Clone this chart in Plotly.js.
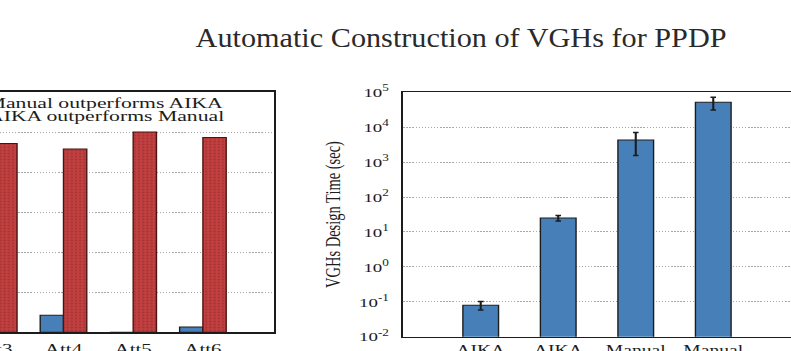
<!DOCTYPE html>
<html>
<head>
<meta charset="utf-8">
<script src="https://cdn.plot.ly/plotly-3.0.1.min.js"></script>
<style>
  html, body { margin: 0; padding: 0; background: #fff; overflow: hidden; width: 791px; height: 351px; }
  /* the figure is drawn narrow and widened horizontally, like a stretched embedded plot */
  #fig { position: absolute; left: -110px; top: 0; width: 648px; height: 351px;
         transform: scaleX(1.4); transform-origin: 0 0; }
</style>
</head>
<body>
<div id="fig"></div>
<script>
// Left panel: share of cases in which each approach wins, per attribute (%)
const attrCats = ['Att3', 'Att4', 'Att5', 'Att6'];
const seriesNames = ['Manual outperforms AIKA', 'AIKA outperforms Manual'];
const manualWins = [5.7, 8.5, 0, 2.7];
const aikaWins = [94.3, 91.5, 100, 97.3];

// Right panel: VGH design time (seconds, log scale) with error bars
const designLabels = ['AIKA', 'AIKA', 'Manual', 'Manual'];
const designTime = [0.08, 25, 4300, 51600];
const designErr = [0.022, 4.5, 2750, 20400];
const logExponents = [-2, -1, 0, 1, 2, 3, 4, 5];

const pageTitle = 'Automatic Construction of VGHs for PPDP';
const yTitleRight = 'VGHs Design Time (sec)';

const SERIF = 'Liberation Serif, Times New Roman, serif';
const INK = '#1c1c1c';
const TITLE_SCALE = 0.8;    // the page title keeps a near natural width

const traces = [
  {
    type: 'bar', name: seriesNames[0], x: attrCats, y: manualWins,
    xaxis: 'x', yaxis: 'y',
    marker: { color: '#4780b8', line: { color: INK, width: 1 } }
  },
  {
    type: 'bar', name: seriesNames[1], x: attrCats, y: aikaWins,
    xaxis: 'x', yaxis: 'y',
    marker: {
      color: '#c03d3d',
      line: { color: '#4a1414', width: 1 },
      pattern: { shape: '.', fillmode: 'replace', bgcolor: '#c24040', fgcolor: '#a83434', size: 3, solidity: 0.3 }
    }
  },
  {
    type: 'bar', name: yTitleRight,
    x: designLabels.map((_, i) => i), y: designTime, width: 0.46,
    xaxis: 'x2', yaxis: 'y2',
    marker: { color: '#4780b8', line: { color: INK, width: 1 } },
    error_y: { type: 'data', array: designErr, visible: true, color: INK, thickness: 1.5, width: 2 }
  }
];

const frame = { showline: true, mirror: true, linecolor: INK, linewidth: 1.5, zeroline: false, ticks: '' };
const grid = { showgrid: true, gridcolor: '#a8a8a8', griddash: '1px,1.2px', gridwidth: 1 };

const legendNotes = seriesNames.map((name, i) => ({
  text: name, xref: 'paper', yref: 'paper', x: 0.3712, y: [0.7085, 0.6704][i],
  xanchor: 'right', yanchor: 'middle', showarrow: false,
  font: { family: SERIF, size: 15.5, color: INK }
}));

const layout = {
  width: 648, height: 351,
  margin: { l: 0, r: 0, t: 0, b: 0 },
  paper_bgcolor: '#fff', plot_bgcolor: '#fff',
  showlegend: false,
  barmode: 'group', bargap: 0.332, bargroupgap: 0,
  font: { family: SERIF, color: INK },
  title: {
    text: pageTitle, xref: 'paper', x: 0.6295, xanchor: 'center',
    yref: 'container', y: 0.8937, yanchor: 'middle',
    font: { family: SERIF, size: 27, color: '#2a2a2a' }
  },
  xaxis: Object.assign({}, frame, {
    domain: [0.036, 0.4233], range: [-1.02, 4.02], type: 'category',
    showgrid: false, tickfont: { size: 15, color: INK }, ticklabelstandoff: 2
  }),
  yaxis: Object.assign({}, frame, grid, {
    domain: [0.0533, 0.7379], range: [0, 120], dtick: 20, showticklabels: false
  }),
  xaxis2: Object.assign({}, frame, {
    anchor: 'y2', domain: [0.5657, 0.9972], range: [-1, 4.05],
    tickvals: designLabels.map((_, i) => i), ticktext: designLabels,
    showgrid: false, tickfont: { size: 14, color: INK }, ticklabelstandoff: 0
  }),
  yaxis2: Object.assign({}, frame, grid, {
    anchor: 'x2', type: 'log', domain: [0.0407, 0.737], range: [-2, 5],
    tickvals: logExponents.map(e => Math.pow(10, e)),
    ticktext: logExponents.map(e => '10<sup>' + e + '</sup>'),
    tickfont: { size: 13.5, color: INK }, ticklabelstandoff: 6,
    title: { text: yTitleRight, font: { family: SERIF, size: 14.5, color: INK }, standoff: 9 }
  }),
  annotations: legendNotes
};

Plotly.newPlot('fig', traces, layout, { staticPlot: true, displayModeBar: false }).then(gd => {
  // keep the page heading close to its natural proportions inside the widened figure
  const t = gd.querySelector('.gtitle');
  if (t) {
    const cx = parseFloat(t.getAttribute('x')) || 0;
    const prev = t.getAttribute('transform') || '';
    t.setAttribute('transform',
      'translate(' + cx + ',0) scale(' + TITLE_SCALE + ',1) translate(' + (-cx) + ',0) ' + prev);
  }
});
</script>
</body>
</html>
